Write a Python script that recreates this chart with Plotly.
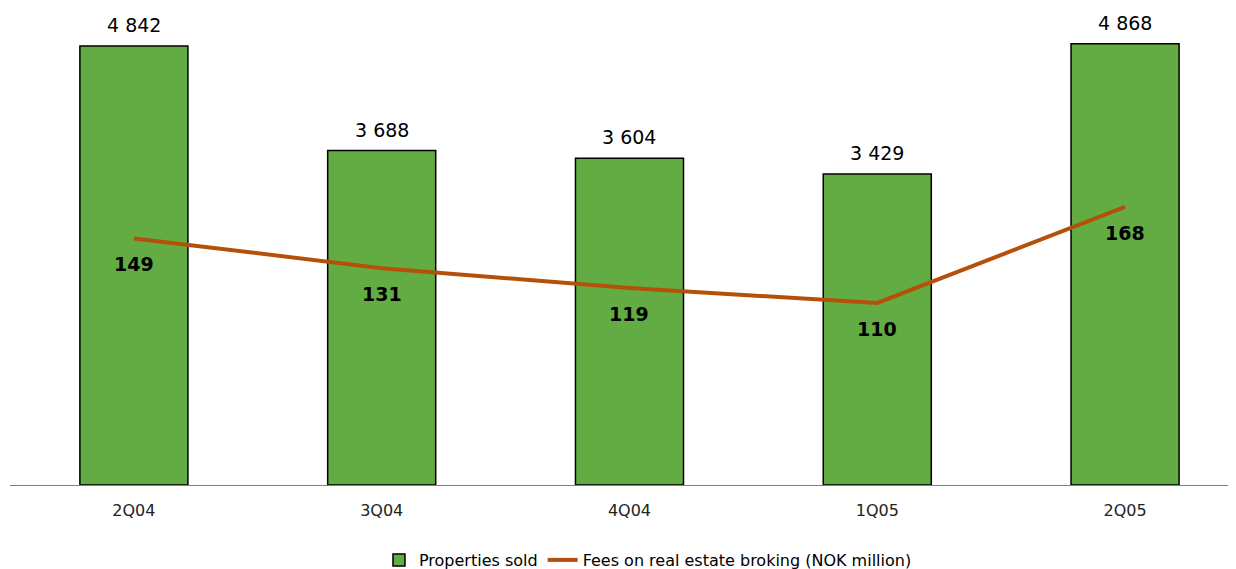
import plotly.graph_objects as go

quarters = ["2Q04", "3Q04", "4Q04", "1Q05", "2Q05"]
properties_sold = [4842, 3688, 3604, 3429, 4868]
fees = [149, 131, 119, 110, 168]

FONT = "DejaVu Sans"
bar_text = [f"{v:,}".replace(",", " ") for v in properties_sold]

fig = go.Figure()
fig.add_trace(go.Bar(
    x=quarters, y=properties_sold, name="Properties sold",
    marker=dict(color="#62AC43", line=dict(color="#000000", width=1.5)),
    width=0.436,
))
fig.add_trace(go.Scatter(
    x=quarters, y=fees, name="Fees on real estate broking (NOK million)",
    mode="lines", line=dict(color="#B5500A", width=4), yaxis="y2",
))
for q, v, t in zip(quarters, properties_sold, bar_text):
    fig.add_annotation(x=q, y=v, text=t, showarrow=False, yanchor="middle",
                       yshift=21, font=dict(family=FONT, size=19, color="#000000"))
for q, f in zip(quarters, fees):
    fig.add_annotation(x=q, y=f, yref="y2", text=f"<b>{f}</b>", showarrow=False,
                       yanchor="middle", yshift=-26,
                       font=dict(family=FONT, size=19, color="#000000"))

fig.update_layout(
    width=1236, height=569,
    margin=dict(l=2, r=0, t=2, b=92),
    paper_bgcolor="white", plot_bgcolor="white",
    font=dict(family=FONT, size=16, color="#000000"),
    xaxis=dict(range=[-0.5, 4.48], showline=True, linecolor="#808080", linewidth=1,
               ticks="", ticklabelstandoff=11,
               tickfont=dict(size=16, family=FONT, color="#222222")),
    yaxis=dict(range=[0, 5239], visible=False, showgrid=False),
    yaxis2=dict(range=[0, 287], overlaying="y", visible=False, showgrid=False),
    legend=dict(orientation="h", x=0.517, xanchor="center", y=-0.158, yanchor="middle",
                font=dict(family=FONT, size=16), traceorder="normal"),
    showlegend=True,
)
fig.write_html("out.html")
